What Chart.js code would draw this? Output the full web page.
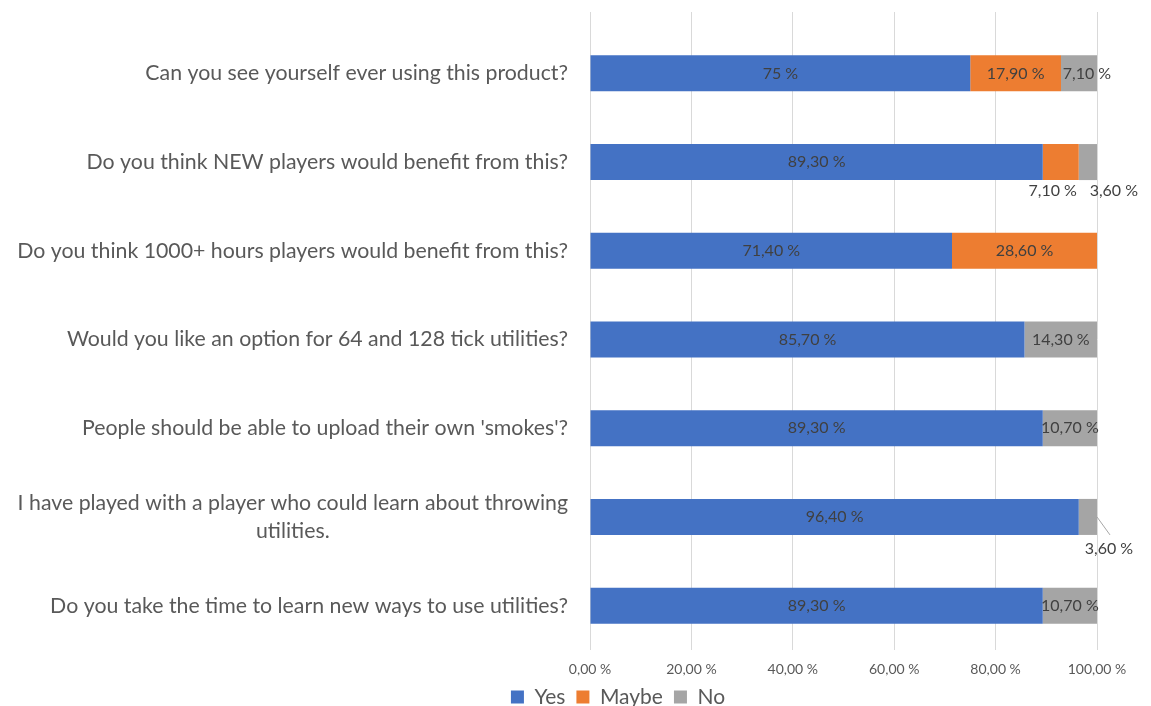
<!DOCTYPE html>
<html>
<head>
<meta charset="utf-8">
<script src="https://cdn.jsdelivr.net/npm/chart.js@4.4.1/dist/chart.umd.min.js"></script>
<style>
  html, body { margin: 0; padding: 0; background: #fff; }
  #wrap { width: 1151px; height: 706px; position: relative; }
</style>
</head>
<body>
<div id="wrap"><canvas id="surveyChart"></canvas></div>
<script>
const questions = [
  'Can you see yourself ever using this product?',
  'Do you think NEW players would benefit from this?',
  'Do you think 1000+ hours players would benefit from this?',
  'Would you like an option for 64 and 128 tick utilities?',
  "People should be able to upload their own 'smokes'?",
  ['I have played with a player who could learn about throwing', 'utilities.'],
  'Do you take the time to learn new ways to use utilities?'
];
const yesValues   = [75, 89.3, 71.4, 85.7, 89.3, 96.4, 89.3];
const maybeValues = [17.9, 7.1, 28.6, 0, 0, 0, 0];
const noValues    = [7.1, 3.6, 0, 14.3, 10.7, 3.6, 10.7];
const xTicks = [0, 20, 40, 60, 80, 100];

const FONT = 'Lato, "Open Sans", sans-serif';
const GRID = '#d9d9d9';

// etiquetas que en el original estan movidas fuera de la barra
const movedLabels = {
  '0-2': { dx: 8 },
  '1-1': { dx: -8, below: true },
  '1-2': { dx: 26, below: true },
  '5-2': { leader: true }
};

const fmt = v => (Number.isInteger(v) ? String(v) : v.toFixed(2).replace('.', ',')) + ' %';

const valueLabels = {
  id: 'valueLabels',
  afterDatasetsDraw(chart) {
    const ctx = chart.ctx;
    ctx.save();
    ctx.font = '16px ' + FONT;
    ctx.fillStyle = '#404040';
    ctx.textAlign = 'center';
    ctx.textBaseline = 'middle';
    chart.data.datasets.forEach((ds, di) => {
      chart.getDatasetMeta(di).data.forEach((bar, i) => {
        const v = ds.data[i];
        if (!v) return;
        const m = movedLabels[i + '-' + di] || {};
        let x = (bar.x + bar.base) / 2 + (m.dx || 0);
        let y = bar.y;
        if (m.below) y = bar.y + bar.height / 2 + 11;
        if (m.leader) {
          ctx.strokeStyle = '#a6a6a6';
          ctx.lineWidth = 1;
          ctx.beginPath();
          ctx.moveTo(bar.x, bar.y);
          ctx.lineTo(bar.x + 13, bar.y + 18);
          ctx.stroke();
          x = bar.x + 12;
          y = bar.y + 32;
        }
        ctx.fillText(fmt(v), x, y);
      });
    });
    ctx.restore();
  }
};

// etiquetas del eje Y: alineadas a la derecha, las de dos lineas centradas entre si
const questionLabels = {
  id: 'questionLabels',
  afterDraw(chart) {
    const ctx = chart.ctx;
    const yScale = chart.scales.y;
    const right = chart.chartArea.left - 22;
    const lh = 28;
    ctx.save();
    ctx.font = '21.3px ' + FONT;
    ctx.fillStyle = '#595959';
    ctx.textBaseline = 'middle';
    questions.forEach((q, i) => {
      const y = yScale.getPixelForTick(i);
      const lines = Array.isArray(q) ? q : [q];
      if (lines.length === 1) {
        ctx.textAlign = 'right';
        ctx.fillText(q, right, y);
        return;
      }
      const w = Math.max(...lines.map(l => ctx.measureText(l).width));
      ctx.textAlign = 'center';
      lines.forEach((l, k) => {
        ctx.fillText(l, right - w / 2, y + (k - (lines.length - 1) / 2) * lh);
      });
    });
    ctx.restore();
  }
};

const ctxBar = document.getElementById('surveyChart').getContext('2d');
const surveyChart = new Chart(ctxBar, {
  type: 'bar',
  data: {
    labels: questions,
    datasets: [
      { label: 'Yes', data: yesValues, backgroundColor: '#4472c4' },
      { label: 'Maybe', data: maybeValues, backgroundColor: '#ed7d31' },
      { label: 'No', data: noValues, backgroundColor: '#a5a5a5' }
    ]
  },
  options: {
    indexAxis: 'y',
    responsive: true,
    maintainAspectRatio: false,
    animation: false,
    barPercentage: 0.406,
    categoryPercentage: 1,
    layout: { padding: { top: 12, left: 139, right: 54, bottom: -11.5 } },
    scales: {
      x: {
        stacked: true,
        min: 0,
        max: 100,
        afterBuildTicks: s => { s.ticks = xTicks.map(v => ({ value: v })); },
        afterFit: s => { s.height = 25.5; },
        grid: { color: GRID, drawTicks: false },
        border: { display: false },
        ticks: {
          padding: 11,
          color: '#595959',
          font: { family: FONT, size: 14 },
          callback: v => v.toFixed(2).replace('.', ',') + ' %'
        }
      },
      // solo para alargar las lineas de la cuadricula hacia arriba
      xTop: {
        position: 'top',
        min: 0,
        max: 100,
        afterBuildTicks: s => { s.ticks = xTicks.map(v => ({ value: v })); },
        grid: { color: GRID, drawOnChartArea: false, tickLength: 17 },
        border: { display: false },
        ticks: { display: false }
      },
      y: {
        stacked: true,
        afterFit: s => { s.width = 451; },
        grid: { display: false },
        border: { display: false },
        ticks: { display: false }
      }
    },
    plugins: {
      legend: {
        position: 'bottom',
        labels: {
          boxWidth: 13,
          boxHeight: 13,
          padding: 11,
          color: '#595959',
          font: { family: FONT, size: 21 }
        }
      },
      tooltip: { enabled: false }
    }
  },
  plugins: [valueLabels, questionLabels]
});
</script>
</body>
</html>
